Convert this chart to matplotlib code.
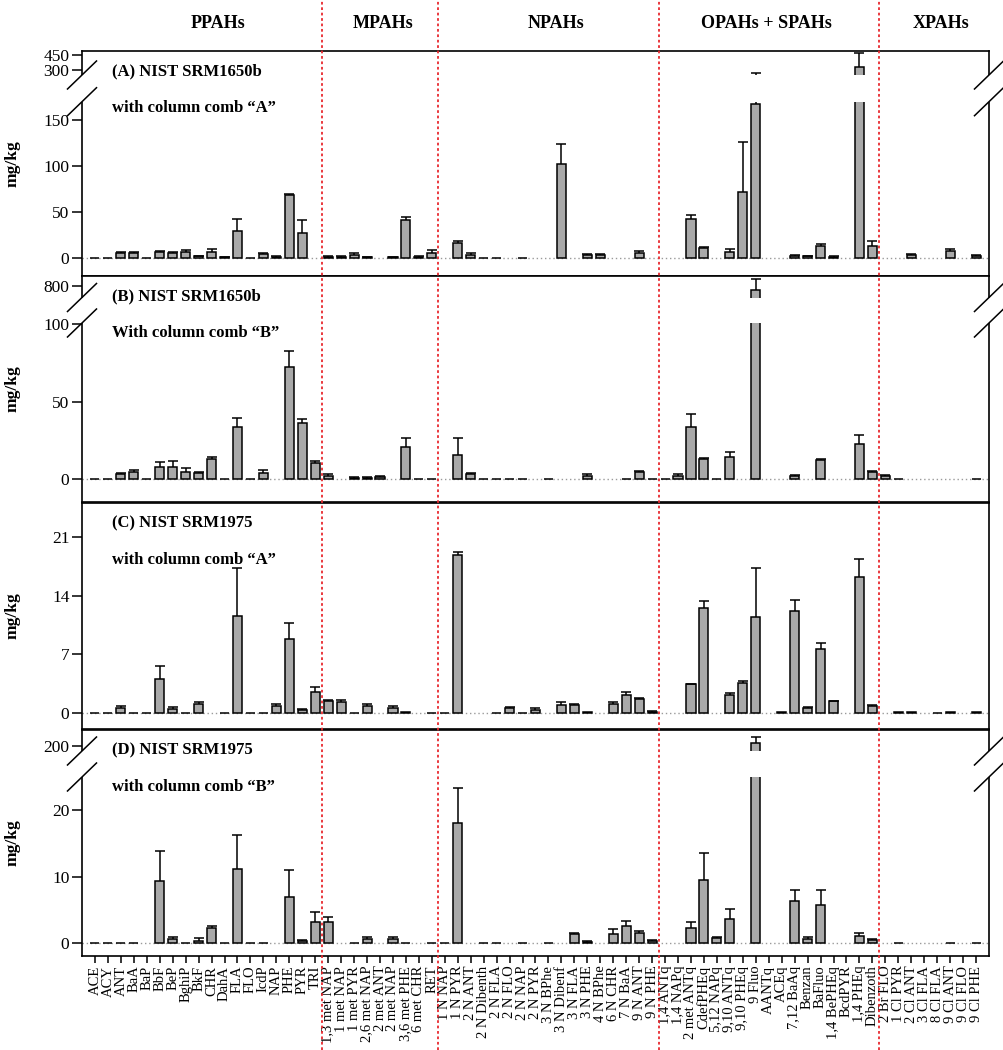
import numpy as np
import matplotlib
matplotlib.use("Agg")
import matplotlib.pyplot as plt
from matplotlib.patches import Rectangle
from matplotlib.lines import Line2D
from matplotlib.transforms import blended_transform_factory

plt.rcParams['font.family'] = ['Liberation Serif', 'DejaVu Serif']

N = np.nan

# ---------------- data ----------------
categories = [
    'ACE', 'ACY', 'ANT', 'BaA', 'BaP', 'BbF', 'BeP', 'BghiP', 'BkF', 'CHR', 'DahA', 'FLA',
    'FLO', 'IcdP', 'NAP', 'PHE', 'PYR', 'TRI',
    '1,3 met NAP', '1 met NAP', '1 met PYR', '2,6 met NAP', '2 met ANT', '2 met NAP',
    '3,6 met PHE', '6 met CHR', 'RET',
    '1 N NAP', '1 N PYR', '2 N ANT', '2 N Dibenth', '2 N FLA', '2 N FLO', '2 N NAP', '2 N PYR',
    '3 N BPhe', '3 N Dibenf', '3 N FLA', '3 N PHE', '4 N BPhe', '6 N CHR', '7 N BaA',
    '9 N ANT', '9 N PHE',
    '1,4 ANTq', '1,4 NAPq', '2 met ANTq', 'CdefPHEq', '5,12 NAPq', '9,10 ANTq', '9,10 PHEq',
    '9 Fluo', 'AANTq', 'ACEq', '7,12 BaAq', 'Benzan', 'BaFluo', '1,4 BePHEq', 'BcdPYR',
    '1,4 PHEq', 'Dibenzoth',
    '2 Br FLO', '1 Cl PYR', '2 Cl ANT', '3 Cl FLA', '8 Cl FLA', '9 Cl ANT', '9 Cl FLO', '9 Cl PHE']

group_names = ['PPAHs', 'MPAHs', 'NPAHs', 'OPAHs + SPAHs', 'XPAHs']
group_sizes = [18, 9, 17, 17, 8]

# (A) NIST SRM1650b, column comb "A"
a_values = np.array(
    [0, 0, 5, 5, 0, 6, 5, 6.5, 2, 7, 1, 29, 0, 4, 1.5, 69, 27, N] +
    [1.5, 1.5, 3.5, 1, N, 1, 41, 1.5, 5] +
    [N, 16, 3.5, 0.5, 0.5, N, 0.5, N, N, 102, N, 3, 3, N, N, 5.5, N] +
    [N, N, 42, 11, N, 7, 72, 167, N, N, 2.5, 2, 12.5, 1.5, N, 330, 13] +
    [N, N, 3, N, N, 8, N, 2], dtype=float)
a_errors = np.array(
    [0, 0, 2, 1.5, 0, 1.5, 1.5, 2, 0.5, 2.5, 0.5, 13, 0, 1.5, 0.5, 0.8, 14, N] +
    [0.8, 0.5, 1.5, 0.3, N, 0.3, 4, 0.5, 4] +
    [N, 2, 1.5, 0, 0, N, 0, N, N, 22, N, 1.5, 1, N, N, 2, N] +
    [N, N, 5, 0.8, N, 3, 54, 106, N, N, 0.5, 0.5, 2.5, 0.3, N, 140, 5] +
    [N, N, 1, N, N, 1.5, N, 1], dtype=float)

# (B) NIST SRM1650b, column comb "B"
b_values = np.array(
    [0, 0.5, 3.4, 4.9, 0.5, 8.2, 8.2, 5, 3.9, 12.9, 0.5, 33.5, 0.5, 4.3, N, 72.5, 36, 10.3] +
    [2.4, N, 1, 1, 1.8, N, 21, 0.5, 0.5] +
    [N, 15.7, 3.4, 0.5, 0.5, 0.3, 0.3, N, 0.3, N, N, 2, N, N, 0.3, 4.5, 0.5] +
    [0.5, 2.4, 33.5, 12.9, 0.5, 14.2, N, 760, N, N, 2, N, 12.4, N, N, 22.7, 4.5] +
    [2.4, 0.5, N, N, N, N, N, 0.3], dtype=float)
b_errors = np.array(
    [0, 0, 0.9, 1.1, 0, 2.8, 3.6, 2.1, 0.6, 1.3, 0, 6.2, 0, 1.7, N, 10.3, 2.8, 1.7] +
    [0.8, N, 0.3, 0.4, 0.4, N, 5.4, 0, 0] +
    [N, 10.7, 0.5, 0, 0, 0, 0, N, 0, N, N, 1.4, N, N, 0, 0.9, 0] +
    [0, 1, 8.5, 0.6, 0, 3.6, N, 110, N, N, 0.8, N, 0.5, N, N, 5.8, 0.9] +
    [0.4, 0, N, N, N, N, N, 0], dtype=float)

# (C) NIST SRM1975, column comb "A"
c_values = np.array(
    [0, 0, 0.6, 0, 0, 4.04, 0.48, 0, 1.1, N, 0, 11.6, 0, 0, 0.9, 8.84, 0.4, 2.58] +
    [1.4, 1.3, 0, 0.9, N, 0.6, 0.1, N, 0] +
    [0, 18.8, N, N, 0, 0.6, 0, 0.4, N, 1.0, 1.0, 0.1, N, 1.1, 2.2, 1.7, 0.2] +
    [N, N, 3.45, 12.5, N, 2.2, 3.65, 11.4, N, 0.1, 12.2, 0.6, 7.7, 1.4, N, 16.2, 0.9] +
    [N, 0.1, 0.1, N, 0, 0.1, N, 0.1], dtype=float)
c_errors = np.array(
    [0, 0, 0.27, 0, 0, 1.6, 0.23, 0, 0.2, N, 0, 5.7, 0, 0, 0.2, 1.86, 0.1, 0.52] +
    [0.2, 0.3, 0, 0.2, N, 0.3, 0, N, 0] +
    [0, 0.4, N, N, 0, 0.2, 0, 0.2, N, 0.3, 0.1, 0, N, 0.2, 0.3, 0.1, 0.05] +
    [N, N, 0.05, 0.9, N, 0.2, 0.2, 5.9, N, 0, 1.3, 0.2, 0.6, 0.1, N, 2.1, 0.1] +
    [N, 0, 0, N, 0, 0, N, 0], dtype=float)

# (D) NIST SRM1975, column comb "B"
d_values = np.array(
    [0, 0, 0, 0, N, 9.4, 0.6, 0, 0.3, 2.2, 0, 11.2, 0, 0, N, 6.87, 0.3, 3.2] +
    [3.1, N, 0, 0.6, N, 0.6, 0, N, 0] +
    [0, 18.0, N, 0, 0, N, 0, N, 0, N, 1.35, 0.2, N, 1.35, 2.6, 1.55, 0.3] +
    [N, N, 2.2, 9.5, 0.7, 3.56, N, 227, N, N, 6.4, 0.6, 5.7, N, N, 1.05, 0.45] +
    [N, 0, N, N, N, 0, N, 0], dtype=float)
d_errors = np.array(
    [0, 0, 0, 0, N, 4.5, 0.35, 0, 0.4, 0.4, 0, 5, 0, 0, N, 4.1, 0.15, 1.5] +
    [0.8, N, 0, 0.35, N, 0.25, 0, N, 0] +
    [0, 5.4, N, 0, 0, N, 0, N, 0, N, 0.2, 0.1, N, 0.7, 0.75, 0.3, 0.1] +
    [N, N, 1.0, 4.0, 0.25, 1.64, N, 60, N, N, 1.6, 0.25, 2.3, N, N, 0.5, 0.1] +
    [N, 0, N, N, N, 0, N, 0], dtype=float)

panel_titles = [('(A) NIST SRM1650b', 'with column comb \u201cA\u201d'),
                ('(B) NIST SRM1650b', 'With column comb \u201cB\u201d'),
                ('(C) NIST SRM1975', 'with column comb \u201cA\u201d'),
                ('(D) NIST SRM1975', 'with column comb \u201cB\u201d')]
yticks_list = [[0, 50, 100, 150, 300, 450], [0, 50, 100, 800], [0, 7, 14, 21], [0, 10, 20, 200]]

# ---------------- layout ----------------
W, H = 1004, 1050
fig = plt.figure(figsize=(W / 100, H / 100), dpi=100)
LEFT, RIGHT = 82, 989
panel_px = [(51, 276), (276, 502), (503, 729), (730, 956)]
# broken-axis spec: (L0, L1, U0, U1, h_lower, gap, h_upper) or linear ylim
breaks = [(-19.6, 170, 250, 490, 174.3, 26.7, 24.0),
          (-14.6, 100.6, 685, 900, 179.0, 25.5, 21.5),
          None,
          (-1.95, 25.0, 147, 357, 179.0, 26.0, 21.0)]
linear_ylim = (-1.87, 25.0)


def piecewise(L0, L1, U0, U1, hL, gap, hU):
    xs = np.array([L0, L1, U0, U1], float)
    ys = np.array([0, hL, hL + gap, hL + gap + hU], float)

    def fwd(v):
        v = np.asarray(v, float)
        out = np.interp(v, xs, ys)
        out = np.where(v < L0, (v - L0) * hL / (L1 - L0), out)
        out = np.where(v > U1, ys[-1] + (v - U1) * hU / (U1 - U0), out)
        return out

    def inv(y):
        y = np.asarray(y, float)
        out = np.interp(y, ys, xs)
        out = np.where(y < 0, L0 + y * (L1 - L0) / hL, out)
        out = np.where(y > ys[-1], U1 + (y - ys[-1]) * (U1 - U0) / hU, out)
        return out
    return fwd, inv


values = [a_values, b_values, c_values, d_values]
errors = [a_errors, b_errors, c_errors, d_errors]
x = np.arange(len(categories))
axes = []
mark_lines = []

for k in range(4):
    top, bot = panel_px[k]
    ax = fig.add_axes([LEFT / W, 1 - bot / H, (RIGHT - LEFT) / W, (bot - top) / H])
    axes.append(ax)
    brk = breaks[k]
    if brk is not None:
        fwd, inv = piecewise(*brk)
        ax.set_yscale('function', functions=(fwd, inv))
        ax.set_ylim(brk[0], brk[3])
    else:
        ax.set_ylim(*linear_ylim)
    ax.set_xlim(-1, len(categories))

    ax.axhline(0, color='#9a9a9a', ls=(0, (1, 2)), lw=1.0, zorder=0.5)
    v = values[k]
    e = errors[k]
    m = ~np.isnan(v)
    ax.bar(x[m], v[m], width=0.7, color='#a9a9a9', edgecolor='black', linewidth=1.1, zorder=1)
    em = m & ~np.isnan(e) & (e > 0)
    cont = ax.errorbar(x[em], v[em], yerr=[np.zeros(em.sum()), e[em]], fmt='none',
                       ecolor='black', elinewidth=1.1, capsize=3.6, capthick=1.1, zorder=2)
    cont[1][0].set_visible(False)  # hide lower caps

    ax.set_yticks(yticks_list[k])
    ax.set_yticklabels([str(t) for t in yticks_list[k]])
    ax.minorticks_off()
    ax.tick_params(axis='y', direction='out', length=7, width=1.1, labelsize=12.5, pad=2)
    for s in ax.spines.values():
        s.set_linewidth(1.2)

    if k < 3:
        ax.tick_params(axis='x', bottom=False, labelbottom=False)
    else:
        ax.set_xticks(x)
        ax.set_xticklabels(categories, rotation=90, fontsize=10.5)
        ax.tick_params(axis='x', direction='out', length=5, width=1.1, pad=2)

    h = bot - top
    ax.text(30 / (RIGHT - LEFT), 1 - 20 / h, panel_titles[k][0], transform=ax.transAxes,
            fontsize=12, fontweight='bold', ha='left', va='center', zorder=6)
    ax.text(30 / (RIGHT - LEFT), 1 - 57 / h, panel_titles[k][1], transform=ax.transAxes,
            fontsize=12, fontweight='bold', ha='left', va='center', zorder=6)
    fig.text(13 / W, 1 - (top + bot) / 2 / H, 'mg/kg', rotation=90, fontsize=12.5,
             fontweight='bold', ha='center', va='center')

    if brk is not None:
        L0, L1, U0, U1 = brk[:4]
        trans = blended_transform_factory(ax.transAxes, ax.transData)
        ax.add_patch(Rectangle((-0.004, L1), 1.008, U0 - L1, transform=trans,
                               facecolor='white', edgecolor='none', zorder=3, clip_on=False))
        for yv in (L1, U0):
            for xa in (0, 1):
                mark_lines.append(trans.transform((xa, yv)))

for (px, py) in mark_lines:
    fig.add_artist(Line2D([(px - 14.5) / W, (px + 14.5) / W], [(py - 14) / H, (py + 14) / H],
                          transform=fig.transFigure, color='black', lw=1.1))

# group separators and headers
xfig = blended_transform_factory(axes[2].transData, fig.transFigure)
bounds = np.cumsum(group_sizes)[:-1] - 0.5
for xb in bounds:
    fig.add_artist(Line2D([xb, xb], [0, 1], transform=xfig, color='#e8292e', lw=1.3,
                          ls=(0, (1.5, 1.5)), zorder=10))
header_x = [9.5, 22.2, 35.6, 51.8, 65.3]
for name, hx in zip(group_names, header_x):
    fig.text(hx, 1 - 23 / H, name, transform=xfig, fontsize=13, fontweight='bold',
             ha='center', va='center')

fig.savefig('out.png', dpi=100)
